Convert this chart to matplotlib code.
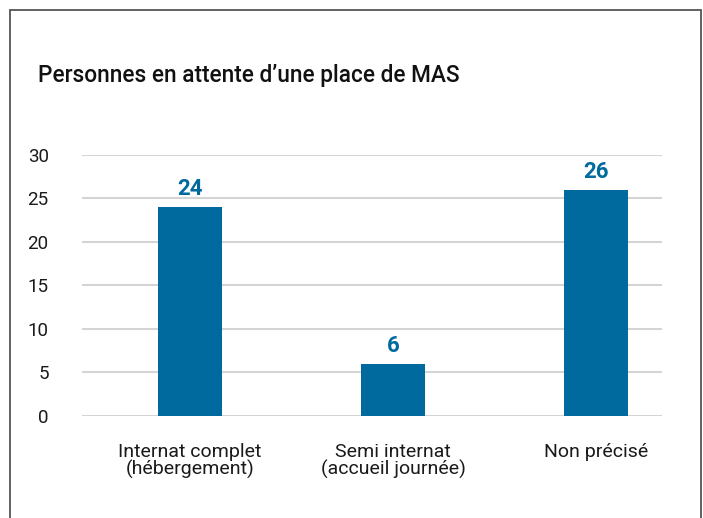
import matplotlib
matplotlib.use('Agg')
import matplotlib.pyplot as plt
from matplotlib.patches import Rectangle

categories = ["Internat complet\n(hébergement)", "Semi internat\n(accueil journée)", "Non précisé"]
values = [24, 6, 26]
yticks = [0, 5, 10, 15, 20, 25, 30]
title = "Personnes en attente d’une place de MAS"

bleu = '#006a9e'
W, H = 703, 518

plt.rcParams['font.family'] = ['Roboto', 'DejaVu Sans']

fig = plt.figure(figsize=(W / 100, H / 100), dpi=100)

# cadre gris autour du graphique (ouvert en bas)
fig.patches.append(Rectangle((9.5 / W, -0.05), (701 - 9.5) / W, 1.05 - 10.5 / H,
                             transform=fig.transFigure, fill=False,
                             edgecolor='#555555', linewidth=1.3))

fig.text(38 / W, 1 - 82 / H, title, fontsize=16.3, fontweight='medium',
         color='#111111', ha='left', va='baseline')

ax = fig.add_axes([82 / W, 1 - 415.7 / H, (662 - 82) / W, (415.7 - 155) / H])

x = list(range(len(categories)))
ax.bar(x, values, width=0.315, color=bleu, zorder=3)
for xi, v in zip(x, values):
    ax.text(xi, v + 0.8, str(v), ha='center', va='bottom', fontsize=16,
            fontweight='bold', color=bleu)

ax.set_xlim(-0.532, 2.325)
ax.set_ylim(0, 30)
ax.set_yticks(yticks)
ax.set_yticklabels([str(t) for t in yticks])
ax.set_xticks(x)
ax.set_xticklabels(categories, linespacing=0.9)
ax.yaxis.grid(True, color='#d4d4d4', linewidth=1.5, zorder=0)
ax.tick_params(axis='y', length=0, pad=24, labelsize=13.5, labelcolor='#1a1a1a')
ax.tick_params(axis='x', length=0, pad=20, labelsize=14, labelcolor='#1a1a1a')
for s in ax.spines.values():
    s.set_visible(False)

fig.savefig('out.png', dpi=100)
